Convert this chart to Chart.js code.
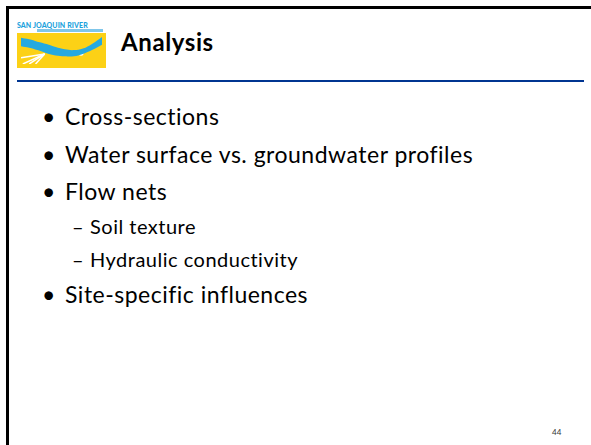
<!DOCTYPE html>
<html>
<head>
<meta charset="utf-8">
<script src="https://cdn.jsdelivr.net/npm/chart.js"></script>
<style>
  html, body { margin: 0; padding: 0; background: #fff; }
  body { width: 591px; height: 445px; position: relative; overflow: hidden; font-family: Lato, "Open Sans", sans-serif; color: #000; }
  .frame { position: absolute; left: 6px; top: 6px; width: 700px; height: 600px; border-left: 3px solid #000; border-top: 3px solid #000; }
  .logo { position: absolute; left: 17px; top: 21px; width: 89px; height: 47px; background: #fff; }
  .logo .name { position: absolute; left: 0; top: 0; font: 900 7px/8px Lato, sans-serif; color: #1ea3dd; letter-spacing: 0.1px; white-space: nowrap; }
  .logo .sub { position: absolute; left: 20px; top: 8px; width: 66px; height: 3px; background: #7fc6ea; }
  .logo .art { position: absolute; left: 0; top: 12px; width: 89px; height: 35px; background: #fcd116; }
  .title { position: absolute; left: 121px; top: 26px; font-weight: 700; font-size: 24px; line-height: 32px; letter-spacing: 0.6px; }
  .rule { position: absolute; left: 17px; top: 80px; width: 567px; height: 2px; background: #003591; }
  .item { position: absolute; white-space: nowrap; font-size: 23px; line-height: 26px; letter-spacing: 0.5px; }
  .item .mk { position: absolute; left: -23px; letter-spacing: 0; }
  .sub-item { font-size: 20px; letter-spacing: 0.5px; }
  .sub-item .mk { left: -18px; }
  .page { position: absolute; left: 552px; top: 427px; font-size: 8px; color: #333; }
</style>
</head>
<body>
<div class="frame"></div>

<div class="logo">
  <div class="name">SAN JOAQUIN RIVER</div>
  <div class="sub"></div>
  <div class="art"><canvas id="logoChart" width="89" height="35"></canvas></div>
</div>
<div class="title">Analysis</div>
<div class="rule"></div>

<div id="list"></div>
<div class="page">44</div>

<script>
// slide text
const bullets = ['Cross-sections', 'Water surface vs. groundwater profiles', 'Flow nets', 'Soil texture', 'Hydraulic conductivity', 'Site-specific influences']
const levels = [1, 1, 1, 2, 2, 1]
const baselines = [124, 162, 199, 233, 266, 302]

// logo artwork: river band through the yellow field
const riverX = [0, 9, 18, 28, 38, 48, 58, 68, 78, 89]
const riverTop = [1, 3, 6, 9, 13, 16, 17, 15, 9, 0]
const riverBottom = [12, 14, 17, 21, 24, 25, 25, 22, 17, 10]
const fanEnds = [[0, 27], [2, 35], [9, 35], [16, 35]]
const fanOrigin = [26, 22]
const fish = [[66, 21]]

const list = document.getElementById('list')
bullets.forEach((text, i) => {
  const el = document.createElement('div')
  const sub = levels[i] === 2
  el.className = sub ? 'item sub-item' : 'item'
  el.style.left = (sub ? 90 : 65) + 'px'
  el.style.top = (baselines[i] - (sub ? 20 : 21)) + 'px'
  el.innerHTML = '<span class="mk">' + (sub ? '–' : '•') + '</span>' + text
  list.appendChild(el)
})

const toPoints = (xs, ys) => xs.map((x, i) => ({ x, y: ys[i] }))

const datasets = [
  { data: toPoints(riverX, riverTop), borderWidth: 0, pointRadius: 0, fill: false, tension: 0.4 },
  { data: toPoints(riverX, riverBottom), borderWidth: 0, pointRadius: 0, fill: '-1', backgroundColor: '#26a9e0', tension: 0.4 }
]
fanEnds.forEach(end => {
  datasets.push({ data: [{ x: fanOrigin[0], y: fanOrigin[1] }, { x: end[0], y: end[1] }], borderColor: '#fff', borderWidth: 1.5, pointRadius: 0, fill: false })
})
datasets.push({ type: 'scatter', data: fish.map(p => ({ x: p[0], y: p[1] })), pointStyle: 'ellipse', pointRadius: 2.5, backgroundColor: '#fff', borderWidth: 0 })

new Chart('logoChart', { // eslint-disable-line
  type: 'line',
  data: { datasets },
  options: {
    responsive: false,
    animation: false,
    events: [],
    layout: { padding: 0 },
    plugins: { legend: { display: false }, tooltip: { enabled: false } },
    scales: {
      x: { type: 'linear', min: 0, max: 89, display: false },
      y: { type: 'linear', min: 0, max: 35, reverse: true, display: false }
    }
  }
})
</script>
</body>
</html>
